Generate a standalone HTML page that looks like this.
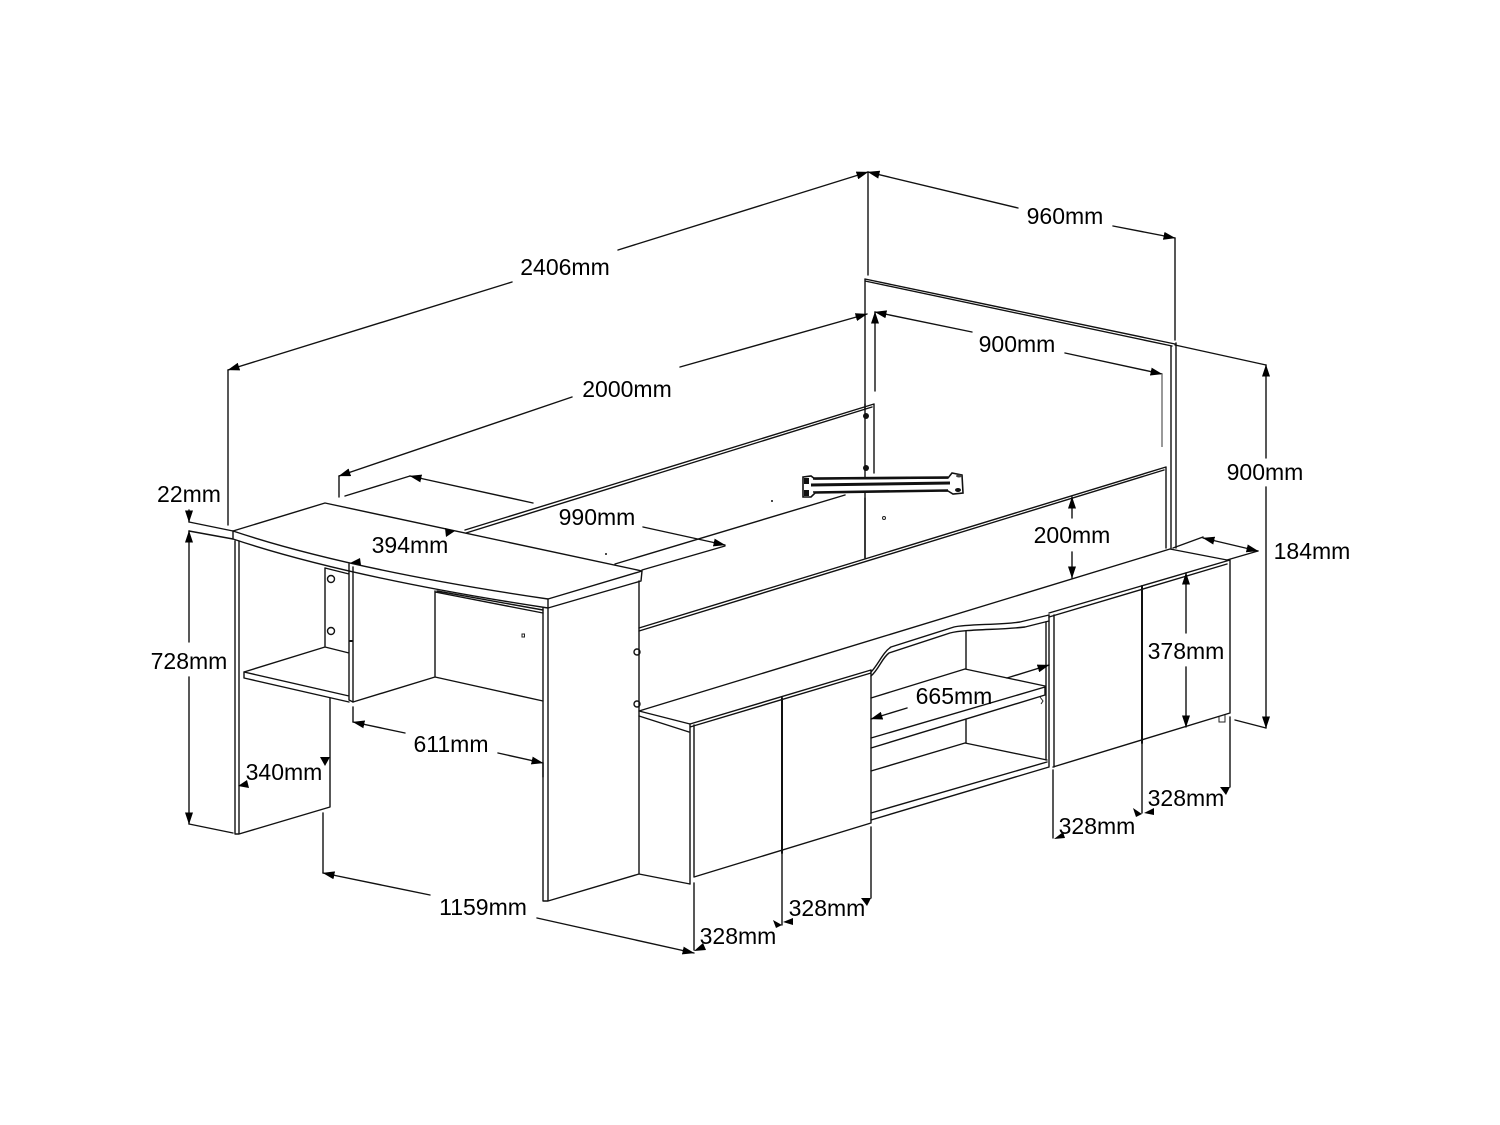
<!DOCTYPE html>
<html><head><meta charset="utf-8"><style>
html,body{margin:0;padding:0;background:#fff}
svg{display:block}
text{font-family:"Liberation Sans",sans-serif;font-size:23px;fill:#000;text-anchor:middle}
.l{fill:none;stroke:#111;stroke-width:1.4;stroke-linecap:round;stroke-linejoin:round}
.t{fill:none;stroke:#222;stroke-width:1}
.a{fill:#000;stroke:none}
</style></head><body>
<svg width="1500" height="1125" viewBox="0 0 1500 1125" xmlns="http://www.w3.org/2000/svg">
<defs><marker id="m" viewBox="0 0 12 8" refX="11.5" refY="4" markerWidth="12" markerHeight="8" markerUnits="userSpaceOnUse" orient="auto-start-reverse"><path d="M12,4L0,0L0,8Z" class="a"/></marker></defs>

<!-- headboard -->
<path class="l" d="M865,558V279L1175,344M865,281L1172,346M1171,346V549M1176,343V548"/>
<!-- back rail and panels -->
<path class="l" d="M465,530L874,404V473M466,533L872,407M865,410V404M865,498V558M615,564L845,495"/>
<circle cx="866" cy="416" r="3" fill="#111"/><circle cx="866" cy="468" r="3" fill="#111"/>
<circle cx="884" cy="518" r="1.5" class="t"/><circle cx="772" cy="501" r="1" fill="#111"/><circle cx="606" cy="554" r="1" fill="#111"/>
<!-- front rail -->
<path class="l" d="M639,628L1166,467V548M639,631L1164,470"/>
<path class="l" d="M639,711L1170,549L1227,560M639,711L690,724M639,716L689,732M639,874L690,884"/>
<path class="l" d="M1173,548L1203,537M1227,560L1258,551"/>
<!-- bracket -->
<path d="M803,477L811,476L815,479L948,478L952,473L962,475L963,493L953,494L948,491L815,493L811,497L803,497Z" fill="#fff" stroke="#111" stroke-width="1.6"/>
<path d="M813,478.5L948,477.5" stroke="#111" stroke-width="2.5" fill="none"/>
<path d="M811,485L950,483" stroke="#111" stroke-width="3" fill="none"/>
<path d="M813,492L948,490" stroke="#111" stroke-width="1.6" fill="none"/>
<rect x="804" y="478" width="5" height="6" fill="#111"/><rect x="804" y="490" width="5" height="6" fill="#111"/>
<ellipse cx="958" cy="490" rx="3" ry="2" fill="#111"/><ellipse cx="959" cy="476" rx="3" ry="1.5" fill="#444"/>

<!-- desk top -->
<path class="l" d="M233,531L325,503L642,571L641,581L548,608V599L642,571"/>
<path class="l" d="M233,531V539M233,531Q350,570 548,599M233,539Q350,578 548,608"/>
<!-- left leg -->
<path class="l" d="M235,541V834H239V541M239,834L330,807V698"/>
<!-- left shelf -->
<path class="l" d="M244,672L325,647L349,653M244,672V678L349,702M244,672L349,696M349,564V700L353,702V567M325,568V647M325,568L349,574"/>
<circle cx="331" cy="579" r="3.5" class="l"/><circle cx="331" cy="631" r="3.5" class="l"/>
<rect x="349" y="640" width="4" height="2" fill="#111"/>
<path class="l" d="M353,702L435,677L543,701M435,591V677M435,592L543,613M437,591L543,610"/>
<rect x="522" y="634" width="2.5" height="3" class="t"/>
<!-- right desk side -->
<path class="l" d="M543,608V901H548V608M548,901L639,874V581"/>
<circle cx="637" cy="652" r="3" class="l"/><circle cx="637" cy="704" r="3" class="l"/>

<!-- left doors -->
<path class="l" d="M690,724L871,670M690,727L871,673M690,724V884M694,725V877M871,670V823M694,877L871,823"/>
<path class="l" style="stroke-width:2" d="M782,698V853"/>
<!-- open section -->
<path class="l" d="M871,672C878,665 883,652 891,647L954,627C966,624 1000,625 1020,622L1049,615"/>
<path class="l" d="M871,676C879,669 882,658 889,653L950,633C966,629 1000,630 1025,627L1049,621"/>
<path class="l" d="M966,631V669M966,720V743M871,698L965,669L1045,686V695M871,738L1045,687M871,748L1045,695M871,771L965,743L1047,760M871,813L1047,762M871,820L1049,767M1046,622V760M1049,615V767"/>
<path class="t" d="M1040,697L1043,701L1041,704"/>
<!-- right doors -->
<path class="l" d="M1049,613L1230,560M1049,617L1227,564M1054,615V767M1230,560V713M1053,767L1230,713"/>
<path class="l" style="stroke-width:2" d="M1142,586V743"/>
<path class="t" d="M1219,717V722H1225V715"/>

<!-- dimensions -->
<path class="l" d="M868,172V275M1175,238V340M228,370V525M339,476V497"/>
<path class="l" marker-start="url(#m)" d="M228,370L512,282"/>
<path class="l" marker-end="url(#m)" d="M618,250L868,172"/>
<path class="l" marker-start="url(#m)" d="M868,172L1018,208"/>
<path class="l" marker-end="url(#m)" d="M1113,226L1175,238"/>
<path class="l" marker-start="url(#m)" d="M339,476L572,397"/>
<path class="l" marker-end="url(#m)" d="M680,367L867,314"/>
<path class="l" d="M1175,345L1266,365"/>
<path class="l" marker-end="url(#m)" d="M1266,458V365"/>
<path class="l" marker-end="url(#m)" d="M1266,487V728"/>
<path class="l" d="M1235,720L1266,728"/>
<path class="l" marker-start="url(#m)" d="M875,312L972,332"/>
<path class="l" marker-start="url(#m)" d="M875,312V391"/>
<path class="l" marker-end="url(#m)" d="M1065,353L1162,374"/>
<path d="M1162,374V447" stroke="#777" stroke-width="1.5" fill="none"/>
<path class="l" d="M345,496L410,476"/>
<path class="l" marker-start="url(#m)" d="M410,476L533,503"/>
<path class="l" marker-end="url(#m)" d="M643,527L725,545"/>
<path class="l" d="M642,570L725,546"/>
<path class="l" marker-start="url(#m)" d="M1072,497V518"/>
<path class="l" marker-end="url(#m)" d="M1072,552V578"/>
<path class="l" marker-start="url(#m)" d="M1186,573V633"/>
<path class="l" marker-end="url(#m)" d="M1186,667V727"/>
<path class="l" marker-start="url(#m)" marker-end="url(#m)" d="M1203,538L1258,551"/>
<path class="l" marker-start="url(#m)" d="M871,719L907,708"/>
<path class="l" marker-end="url(#m)" d="M1007,678L1049,665"/>
<path class="l" d="M694,883V950M782,853V925M871,827V898M1053,770V838M1142,743V813M1230,717V787"/>
<path class="a" d="M694,951L703,943L706,950ZM782,925L773,920L776,928ZM783,922L793,918L793,925ZM871,898L861,898L867,906ZM1054,839L1063,832L1065,838ZM1142,814L1133,808L1136,817ZM1144,813L1154,808L1154,815ZM1230,787L1220,787L1226,795Z"/>
<path class="l" d="M323,813V873"/>
<path class="l" marker-start="url(#m)" d="M323,873L430,895"/>
<path class="l" marker-end="url(#m)" d="M537,918L694,953"/>
<path class="l" d="M353,707V722"/>
<path class="l" marker-start="url(#m)" d="M353,722L405,733"/>
<path class="l" marker-end="url(#m)" d="M498,753L543,763"/>
<path class="l" d="M543,763V777"/>
<path class="a" d="M238,786L247,780L249,788ZM330,757L320,757L325,766ZM446,537L445,528L455,531ZM350,563L360,558L361,565Z"/>
<path class="l" d="M189,522L233,531M189,531L233,539M189,824L233,833"/>
<path class="l" marker-end="url(#m)" d="M189,510V522"/>
<path class="l" marker-start="url(#m)" d="M189,531V642"/>
<path class="l" marker-end="url(#m)" d="M189,677V824"/>

<!-- labels -->
<g>
<text x="565" y="275">2406mm</text>
<text x="1065" y="224">960mm</text>
<text x="1017" y="352">900mm</text>
<text x="627" y="397">2000mm</text>
<text x="1265" y="480">900mm</text>
<text x="1072" y="543">200mm</text>
<text x="1312" y="559">184mm</text>
<text x="597" y="525">990mm</text>
<text x="410" y="553">394mm</text>
<text x="189" y="502">22mm</text>
<text x="189" y="669">728mm</text>
<text x="1186" y="659">378mm</text>
<text x="954" y="704">665mm</text>
<text x="451" y="752">611mm</text>
<text x="284" y="780">340mm</text>
<text x="1186" y="806">328mm</text>
<text x="1097" y="834">328mm</text>
<text x="827" y="916">328mm</text>
<text x="738" y="944">328mm</text>
<text x="483" y="915">1159mm</text>
</g>
</svg>
</body></html>
